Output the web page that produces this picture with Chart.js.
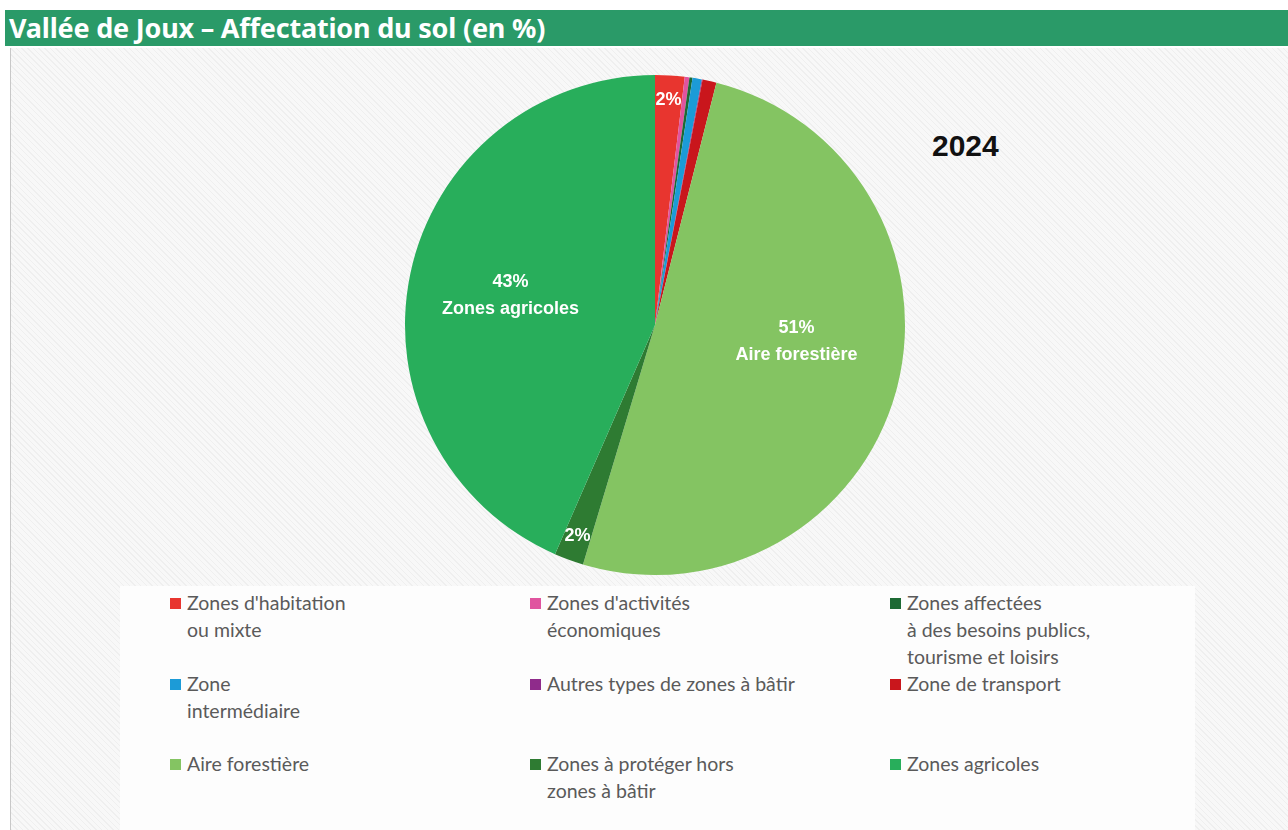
<!DOCTYPE html>
<html>
<head>
<meta charset="utf-8">
<script src="https://cdn.jsdelivr.net/npm/chart.js@4.4.1/dist/chart.umd.min.js"></script>
<style>
  body { margin: 0; width: 1288px; height: 830px; background: #fff; position: relative; overflow: hidden; font-family: Lato, "Noto Sans", sans-serif; }
  #titlebar { position: absolute; left: 5px; top: 10px; width: 1283px; height: 36px; background: #2a9a68; color: #fff;
    font: bold 27px "Noto Sans", Lato, sans-serif; line-height: 36px; padding-left: 4px; box-sizing: border-box; letter-spacing: -0.2px; }
  #panel { position: absolute; left: 10px; top: 48px; width: 1278px; height: 782px; border-left: 1px solid #c8c8c8;
    background: repeating-linear-gradient(45deg, #efefef 0 1px, #f8f8f8 1px 4px); }
  #year { position: absolute; left: 932px; top: 129px; font: bold 30px "Liberation Sans", Arial, sans-serif; color: #111; }
  #chartbox { position: absolute; left: 380px; top: 50px; width: 550px; height: 550px; }
  #legend { position: absolute; left: 120px; top: 586px; width: 1075px; height: 244px; background: #fdfdfd; }
  .item { position: absolute; font-size: 19.5px; color: #5a5a5a; line-height: 27px; }
  .item i { position: absolute; left: -17px; top: 9px; width: 11px; height: 11px; }
</style>
</head>
<body>
<div id="titlebar">Vallée de Joux – Affectation du sol (en %)</div>
<div id="panel"></div>
<div id="year">2024</div>
<div id="chartbox"><canvas id="pie"></canvas></div>
<div id="legend"></div>
<script>
const categories = [
  ["Zones d'habitation", "ou mixte"],
  ["Zones d'activités", "économiques"],
  ["Zones affectées", "à des besoins publics,", "tourisme et loisirs"],
  ["Zone", "intermédiaire"],
  ["Autres types de zones à bâtir"],
  ["Zone de transport"],
  ["Aire forestière"],
  ["Zones à protéger hors", "zones à bâtir"],
  ["Zones agricoles"]
];
const values = [1.9, 0.3, 0.2, 0.6, 0.05, 0.9, 50.7, 1.9, 43.45];
const colors = ['#e8352f', '#e0549f', '#1d6a34', '#1c9bd7', '#8f2b8b', '#c9161c', '#84c462', '#2e7b32', '#28ae5b'];
// which slices get a label: second line, radius fraction, angle nudge (deg)
const labelled = {
  0: [null, 0.9, 0],
  6: ['Aire forestière', 0.57, -9],
  7: [null, 0.9, 0],
  8: ['Zones agricoles', 0.59, 0]
};

const sliceLabels = {
  id: 'sliceLabels',
  afterDatasetsDraw(chart) {
    const ctx = chart.ctx;
    const meta = chart.getDatasetMeta(0);
    const total = values.reduce((a, b) => a + b, 0);
    ctx.save();
    ctx.fillStyle = '#fff';
    ctx.textAlign = 'center';
    ctx.textBaseline = 'middle';
    ctx.font = 'bold 18px "Liberation Sans", Arial, sans-serif';
    Object.keys(labelled).forEach(k => {
      const i = +k;
      const [name, f, nudge] = labelled[i];
      const arc = meta.data[i];
      const mid = (arc.startAngle + arc.endAngle) / 2 + nudge * Math.PI / 180;
      const r = arc.outerRadius * f;
      const x = arc.x + Math.cos(mid) * r;
      const y = arc.y + Math.sin(mid) * r;
      const pct = Math.round(values[i] / total * 100) + '%';
      if (name) {
        ctx.fillText(pct, x, y - 13);
        ctx.fillText(name, x, y + 14);
      } else {
        ctx.fillText(pct, x, y);
      }
    });
    ctx.restore();
  }
};

new Chart(document.getElementById('pie'), {
  type: 'pie',
  data: {
    labels: categories,
    datasets: [{ data: values, backgroundColor: colors, borderWidth: 0 }]
  },
  options: {
    responsive: true,
    maintainAspectRatio: false,
    animation: false,
    layout: { padding: 25 },
    plugins: { legend: { display: false }, tooltip: { enabled: false } }
  },
  plugins: [sliceLabels]
});

// legend in three columns, same order as the slices
const legend = document.getElementById('legend');
const colX = [67, 427, 787];
const rowY = [3, 84, 164];
categories.forEach((lines, i) => {
  const d = document.createElement('div');
  d.className = 'item';
  d.style.left = colX[i % 3] + 'px';
  d.style.top = rowY[Math.floor(i / 3)] + 'px';
  d.innerHTML = '<i style="background:' + colors[i] + '"></i>' + lines.join('<br>');
  legend.appendChild(d);
});
</script>
</body>
</html>
